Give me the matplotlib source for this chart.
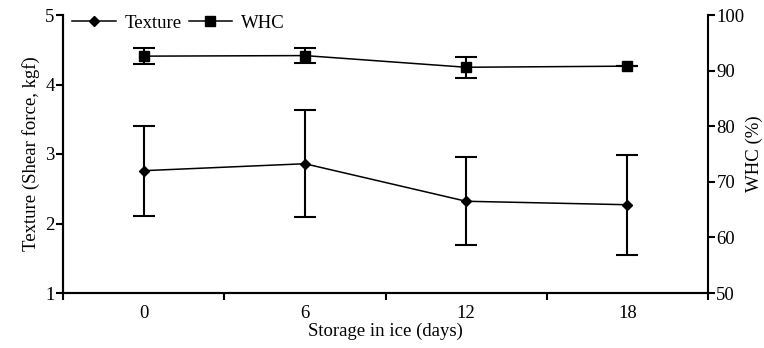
import numpy as np
import matplotlib
matplotlib.use("Agg")
import matplotlib.pyplot as plt
from matplotlib.lines import Line2D

days = ["0", "6", "12", "18"]
texture = [2.76, 2.86, 2.32, 2.27]
texture_err = [0.645, 0.77, 0.63, 0.72]
whc = [92.6, 92.7, 90.6, 90.8]
whc_err = [1.45, 1.4, 1.9, 0.0]

plt.rcParams["font.family"] = ["Liberation Serif", "DejaVu Serif"]
plt.rcParams["font.size"] = 13.5

fig = plt.figure(figsize=(7.64, 3.48), dpi=100)
ax = fig.add_axes([63 / 764, 1 - 293 / 348, 645 / 764, 278 / 348])
ax2 = ax.twinx()

x = np.arange(len(days))

ax.errorbar(x, texture, yerr=texture_err, color="black", lw=1.1,
            marker="D", ms=5.5, elinewidth=1.5, capsize=8, capthick=1.5)
ax2.errorbar(x, whc, yerr=whc_err, color="black", lw=1.1,
             marker="s", ms=7, elinewidth=1.5, capsize=8, capthick=1.5)

ax.set_xlim(-0.5, 3.5)
ax.set_ylim(1, 5)
ax2.set_ylim(50, 100)
ax.set_yticks([1, 2, 3, 4, 5])
ax2.set_yticks([50, 60, 70, 80, 90, 100])

ax.set_xticks(x)
ax.set_xticklabels(days)
ax.set_xticks([-0.5, 0.5, 1.5, 2.5, 3.5], minor=True)
ax.tick_params(axis="x", which="major", length=0, pad=9)
ax.tick_params(axis="x", which="minor", length=5, width=1.5, direction="out")
ax.tick_params(axis="y", length=5, width=1.5, direction="out", pad=1)
ax2.tick_params(axis="y", length=5, width=1.5, direction="out", pad=1)

for a in (ax, ax2):
    a.spines["top"].set_visible(False)
    for s in ("left", "right", "bottom"):
        a.spines[s].set_linewidth(1.5)
ax.spines["right"].set_visible(False)

ax.set_xlabel("Storage in ice (days)", labelpad=0)
ax.set_ylabel("Texture (Shear force, kgf)", labelpad=4)
ax2.set_ylabel("WHC (%)", labelpad=1)

handles = [
    Line2D([], [], color="black", lw=1.1, marker="D", ms=5.5),
    Line2D([], [], color="black", lw=1.1, marker="s", ms=7),
]
ax2.legend(handles, ["Texture", "WHC"], loc="upper left", ncol=2, frameon=False,
           bbox_to_anchor=(0.0, 1.035), handlelength=2.3, columnspacing=0.35,
           handletextpad=0.5, borderaxespad=0.3, borderpad=0.2)

fig.savefig("out.png", dpi=100)
